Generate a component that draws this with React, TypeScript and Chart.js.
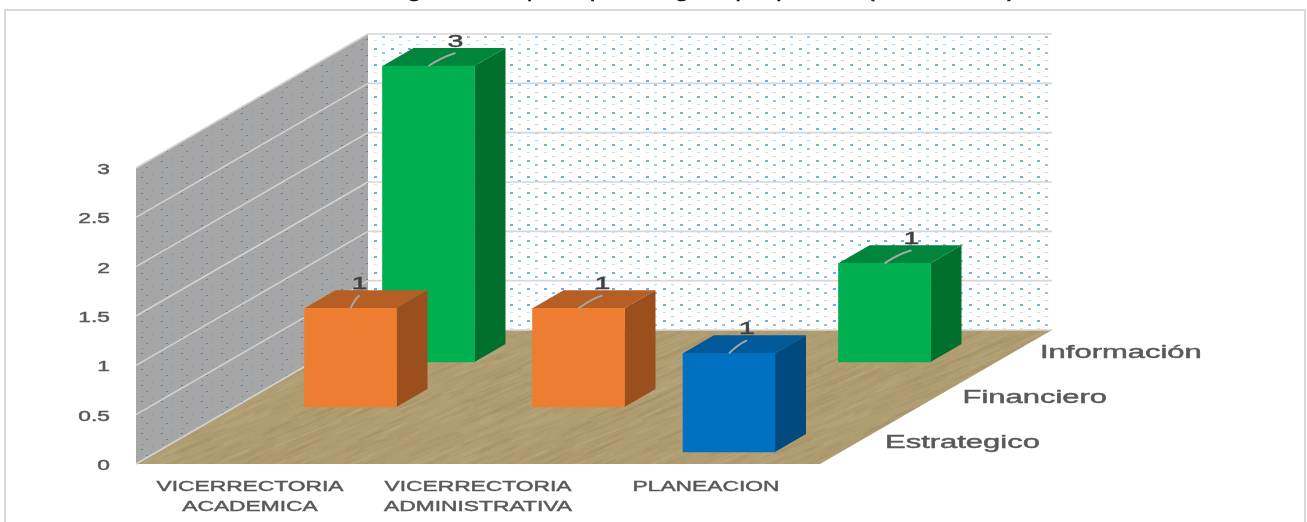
import React, { useEffect, useRef } from "react";
import { Chart, registerables } from "chart.js";

Chart.register(...registerables);

const categories = [
  ["VICERRECTORIA", "ACADEMICA"],
  ["VICERRECTORIA", "ADMINISTRATIVA"],
  ["PLANEACION"],
];
const estrategico = [null, null, 1];
const financiero = [1, 1, null];
const informacion = [3, null, 1];
const seriesNames = ["Estrategico", "Financiero", "Información"];
const caption = "Gráfica 4. Consolidado del riesgo de corrupción por categoría por proceso (continuación)";

const W = 1307;
const H = 522;
const FONT = "'Liberation Sans', Arial, sans-serif";
const TEXT_SX = 1.52;
const WALL_DX = 232;
const WALL_DY = 134;
const ROW_DX = [23, 100.5, 178.5];
const ROW_DY = [12, 57, 102];
const BAR_DX = 31;
const BAR_DY = 18;
const LEADER_DX = [[0, 0, 18], [9, 24, 0], [27, 0, 27]];
const faces = [
  { front: "#0070C0", top: "#005A9A", side: "#004A80" },
  { front: "#ED7D31", top: "#B65F25", side: "#9A4F1C" },
  { front: "#00B050", top: "#00853C", side: "#00702F" },
];

function hash(a: number, b: number) {
  const s = Math.sin(a * 12.9898 + b * 78.233) * 43758.5453;
  return s - Math.floor(s);
}

function dotTile(base: string | null, colors: string[], w: number, h: number, spots: number[][]) {
  const c = document.createElement("canvas");
  c.width = w;
  c.height = h;
  const g = c.getContext("2d")!;
  if (base) {
    g.fillStyle = base;
    g.fillRect(0, 0, w, h);
  }
  spots.forEach((p, i) => {
    g.fillStyle = colors[i % colors.length];
    g.fillRect(p[0], p[1], p[2], p[3] || 1);
  });
  return c;
}

function woodTile() {
  const c = document.createElement("canvas");
  c.width = 300;
  c.height = 150;
  const g = c.getContext("2d")!;
  g.fillStyle = "#B09D72";
  g.fillRect(0, 0, 300, 150);
  const tones = ["rgba(150,128,84,0.16)", "rgba(200,186,150,0.16)", "rgba(165,145,95,0.18)", "rgba(190,175,135,0.15)"];
  for (let i = 0; i < 900; i++) {
    const x = hash(i, 1) * 300;
    const y = hash(i, 2) * 150;
    const len = 12 + hash(i, 3) * 34;
    g.strokeStyle = tones[i % 4];
    g.lineWidth = 1 + hash(i, 4) * 1.6;
    for (const ox of [-300, 0, 300]) {
      for (const oy of [-150, 0, 150]) {
        g.beginPath();
        g.moveTo(x + ox, y + oy);
        g.lineTo(x + ox + len, y + oy - len * 0.42);
        g.stroke();
      }
    }
  }
  return c;
}

function poly(ctx: CanvasRenderingContext2D, pts: number[][], fill: any) {
  ctx.beginPath();
  pts.forEach((p, i) => (i ? ctx.lineTo(p[0], p[1]) : ctx.moveTo(p[0], p[1])));
  ctx.closePath();
  ctx.fillStyle = fill;
  ctx.fill();
}

export default function App() {
  const ref = useRef<HTMLCanvasElement>(null);

  useEffect(() => {
    const canvas = ref.current!;
    const ctx: any = canvas.getContext("2d")!;
    const rawFill = ctx.fillText.bind(ctx);
    const rawStroke = ctx.strokeText.bind(ctx);
    let sx = TEXT_SX;
    ctx.fillText = (t: string, x: number, y: number) => {
      ctx.save();
      ctx.translate(x, ctx.textBaseline === "middle" ? y + 2 : y);
      ctx.scale(sx, 1);
      rawFill(t, 0, 0);
      ctx.strokeStyle = ctx.fillStyle;
      ctx.lineWidth = 0.45;
      rawStroke(t, 0, 0);
      ctx.restore();
    };

    const backTile = dotTile(null, ["#6FAEE3", "#93C2EA", "#CFE3F5", "#B4D5F0"], 17, 16, [
      [0, 0, 3, 2], [8, 4, 3, 2], [0, 8, 3, 1], [8, 12, 3, 1],
    ]);
    const sideTile = dotTile("#A6A6A6", ["#4F7FA8", "#7E9AB3", "#5F87AA", "#8FA3B5"], 20, 16, [
      [1, 1, 2], [11, 3, 1], [6, 7, 2], [16, 9, 1], [2, 12, 1], [12, 14, 2],
    ]);
    const wood = woodTile();

    const depthPlugin = {
      id: "depth",
      afterDatasetsUpdate(chart: any) {
        chart.data.datasets.forEach((_: any, d: number) => {
          chart.getDatasetMeta(d).data.forEach((el: any) => {
            el.x += ROW_DX[d];
            el.y -= ROW_DY[d];
            el.base -= ROW_DY[d];
          });
        });
      },
      beforeDraw(chart: any) {
        const c = chart.ctx;
        const { left, right } = chart.chartArea;
        const y = chart.scales.y;
        const y0 = y.getPixelForValue(0);
        const yTop = y.getPixelForValue(3);
        c.fillStyle = "#FFFFFF";
        c.fillRect(0, 0, W, H);

        c.font = `17px ${FONT}`;
        c.fillStyle = "#111111";
        c.textAlign = "left";
        c.textBaseline = "alphabetic";
        sx = 930 / c.measureText(caption).width;
        c.fillText(caption, 85, -2);
        sx = TEXT_SX;

        c.strokeStyle = "#D9D9D9";
        c.lineWidth = 2;
        c.strokeRect(5, 10, 1300, 600);

        const bl = left + WALL_DX;
        const br = right + WALL_DX;
        const by0 = y0 - WALL_DY;
        const byTop = yTop - WALL_DY;
        poly(c, [[bl, byTop], [br, byTop], [br, by0], [bl, by0]], c.createPattern(backTile, "repeat"));
        poly(c, [[left, yTop], [bl, byTop], [bl, by0], [left, y0]], c.createPattern(sideTile, "repeat"));
        poly(c, [[left, y0], [bl, by0], [br, by0], [right, y0]], c.createPattern(wood, "repeat"));

        c.lineWidth = 1.6;
        y.ticks.forEach((t: any) => {
          const py = y.getPixelForValue(t.value);
          c.strokeStyle = "#D2D2D2";
          c.beginPath();
          c.moveTo(left, py);
          c.lineTo(bl, py - WALL_DY);
          c.stroke();
          c.strokeStyle = "#D6D6D6";
          c.beginPath();
          c.moveTo(bl, py - WALL_DY);
          c.lineTo(br, py - WALL_DY);
          c.stroke();
        });
      },
      beforeDatasetDraw(chart: any, args: any) {
        const c = chart.ctx;
        const f = faces[args.index];
        args.meta.data.forEach((el: any, i: number) => {
          if (chart.data.datasets[args.index].data[i] == null) return;
          const x0 = el.x - el.width / 2;
          const x1 = el.x + el.width / 2;
          poly(c, [[x0, el.y], [x0 + BAR_DX, el.y - BAR_DY], [x1 + BAR_DX, el.y - BAR_DY], [x1, el.y]], f.top);
          poly(c, [[x1, el.y], [x1 + BAR_DX, el.y - BAR_DY], [x1 + BAR_DX, el.base - BAR_DY], [x1, el.base]], f.side);
        });
      },
      afterDatasetsDraw(chart: any) {
        const c = chart.ctx;
        chart.data.datasets.forEach((ds: any, d: number) => {
          chart.getDatasetMeta(d).data.forEach((el: any, i: number) => {
            const v = ds.data[i];
            if (v == null) return;
            const dx = LEADER_DX[d][i];
            c.strokeStyle = "#A6A6A6";
            c.lineWidth = 2;
            c.beginPath();
            c.moveTo(el.x, el.y);
            c.quadraticCurveTo(el.x + dx * 0.5, el.y - 9, el.x + dx, el.y - 13);
            c.stroke();
            c.font = `17px ${FONT}`;
            c.fillStyle = "#404040";
            c.textAlign = "center";
            c.textBaseline = "alphabetic";
            sx = 1.68;
            c.fillText(String(v), el.x + dx, el.y - 19);
            sx = TEXT_SX;
          });
        });
      },
      afterDraw(chart: any) {
        const c = chart.ctx;
        const { right } = chart.chartArea;
        const y0 = chart.scales.y.getPixelForValue(0);
        c.font = `18px ${FONT}`;
        c.fillStyle = "#595959";
        c.textAlign = "left";
        c.textBaseline = "alphabetic";
        sx = 1.72;
        seriesNames.forEach((name, d) => {
          c.fillText(name, right + 65 + d * 77.5, y0 - 16 - d * 45);
        });
        sx = TEXT_SX;
      },
    };

    const tickFont = { family: FONT, size: 15, lineHeight: 1.333 };
    const makeSet = (label: string, data: (number | null)[], i: number) => ({
      label,
      data,
      backgroundColor: faces[i].front,
      borderWidth: 0,
      barThickness: 92,
      clip: false,
    });

    const chart = new Chart(canvas, {
      type: "bar",
      data: {
        labels: categories,
        datasets: [
          makeSet(seriesNames[0], estrategico, 0),
          makeSet(seriesNames[1], financiero, 1),
          makeSet(seriesNames[2], informacion, 2),
        ],
      },
      options: {
        responsive: false,
        animation: false,
        devicePixelRatio: 1,
        layout: { autoPadding: false, padding: { left: 0, top: 168, right: 487, bottom: 0 } },
        plugins: { legend: { display: false }, title: { display: false }, tooltip: { enabled: false } },
        scales: {
          x: {
            stacked: true,
            grid: { display: false, drawTicks: false },
            border: { display: false },
            afterFit: (s: any) => { s.height = 58; },
            ticks: { autoSkip: false, maxRotation: 0, minRotation: 0, padding: 11, color: "#595959", font: tickFont },
          },
          y: {
            min: 0,
            max: 3,
            grid: { display: false, drawTicks: false },
            border: { display: false },
            afterFit: (s: any) => { s.width = 136; },
            ticks: {
              stepSize: 0.5,
              padding: 26,
              color: "#595959",
              font: tickFont,
              callback: (v: any) => String(v),
            },
          },
        },
      },
      plugins: [depthPlugin],
    } as any);

    return () => chart.destroy();
  }, []);

  return (
    <div style={{ position: "fixed", left: 0, top: 0, width: W, height: H, overflow: "hidden", background: "#fff" }}>
      <canvas ref={ref} width={W} height={H} style={{ display: "block", width: W, height: H }} />
    </div>
  );
}
